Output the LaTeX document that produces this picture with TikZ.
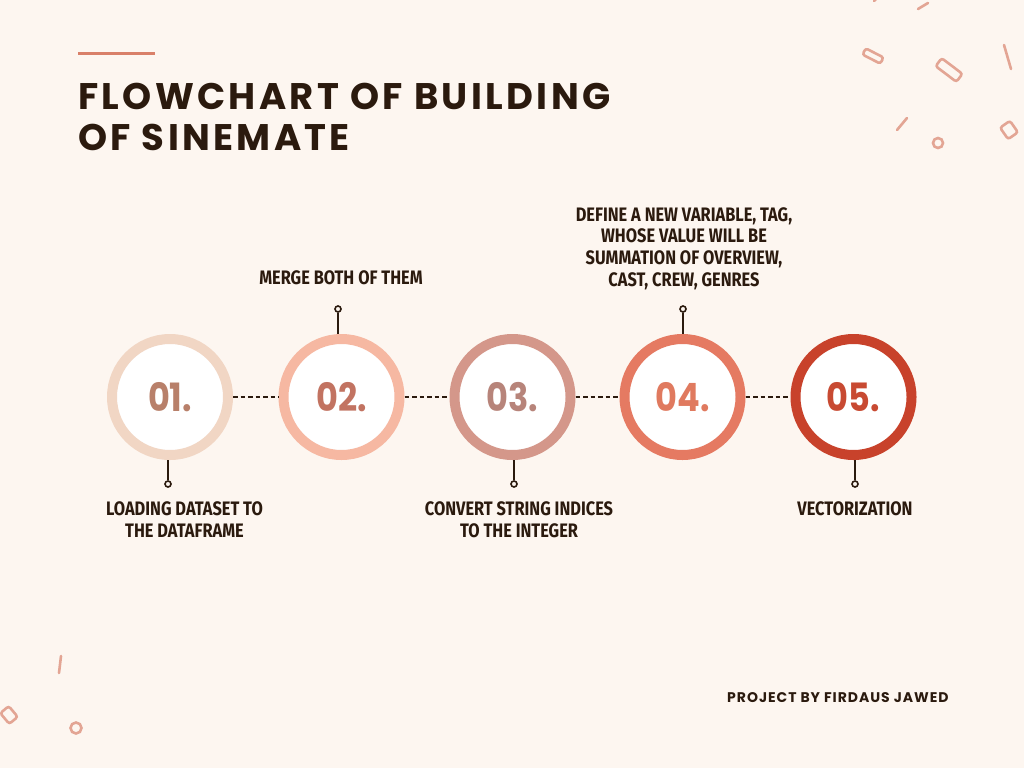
\documentclass[tikz,border=0pt]{standalone}
\usepackage{fontspec}
\setmainfont{Poppins}
\newfontfamily\headfont[LetterSpace=9]{Poppins}
\newfontfamily\numfont[FakeStretch=0.86]{Poppins}
\newfontfamily\lblfont[FakeStretch=0.84]{Fira Sans}
\newfontfamily\credfont[LetterSpace=7]{Poppins}

\definecolor{bg}{HTML}{FDF6F0}
\definecolor{ink}{HTML}{2B1A0E}
\definecolor{accent}{HTML}{D98069}
\definecolor{conf}{HTML}{E3A594}
\definecolor{ringA}{HTML}{F1D6C4}
\definecolor{ringB}{HTML}{F6B8A2}
\definecolor{ringC}{HTML}{D4978A}
\definecolor{ringD}{HTML}{E57A62}
\definecolor{ringE}{HTML}{C8422B}
\definecolor{numA}{HTML}{B8806A}
\definecolor{numB}{HTML}{C27361}
\definecolor{numC}{HTML}{B7847A}
\definecolor{numD}{HTML}{E07A5F}
\definecolor{numE}{HTML}{C84A32}

\tikzset{
  stepring/.style={circle, draw=#1, line width=10pt, fill=white,
    minimum size=116pt, inner sep=0pt,
    font=\numfont\bfseries\fontsize{39}{39}\selectfont},
  pindot/.style={circle, draw=ink, line width=1.6pt, fill=bg,
    minimum size=6pt, inner sep=0pt},
  stem/.style={draw=ink, line width=1.6pt},
  link/.style={draw=ink, line width=1.6pt, dash pattern=on 4.5pt off 3pt},
  lbl/.style={text=ink, align=center, inner sep=0pt,
    font=\lblfont\bfseries\fontsize{19.5}{21.7}\selectfont},
  confetti/.style={draw=conf, line width=2.6pt, line cap=round},
  confbox/.style={draw=conf, line width=2.6pt, rounded corners=2.5pt,
    inner sep=0pt},
}

\begin{document}
\begin{tikzpicture}[x=1pt, y=-1pt]
  % canvas
  \fill[bg] (0,0) rectangle (1024,768);
  \useasboundingbox (0,0) rectangle (1024,768);

  % scattered confetti, top right
  \draw[confetti] (874,1) -- (879,-4);
  \draw[confetti] (918,9) -- (928,3);
  \node[confbox, minimum width=20pt, minimum height=7pt, rotate=-27] (k1) at (873,56) {};
  \node[confbox, minimum width=26pt, minimum height=10pt, rotate=-37] (k2) at (949,70) {};
  \draw[confetti] (1004,45) -- (1011,69);
  \draw[confetti] (897,130) -- (907,118);
  \node[confbox, circle, minimum size=10pt] (k3) at (938,143) {};
  \node[confbox, minimum width=12pt, minimum height=14pt, rotate=35] (k4) at (1009,130) {};

  % scattered confetti, bottom left
  \draw[confetti] (61,656) -- (59,673);
  \node[confbox, minimum width=11pt, minimum height=14pt, rotate=40] (k5) at (9,715) {};
  \node[confbox, circle, minimum size=11pt] (k6) at (76,728) {};

  % heading
  \draw[accent, line width=3pt] (78,54) -- (155,54);
  \node[anchor=base west, inner sep=0pt, text=ink,
        font=\headfont\bfseries\fontsize{37}{37}\selectfont] (h1) at (78,109) {FLOWCHART OF BUILDING};
  \node[anchor=base west, inner sep=0pt, text=ink,
        font=\headfont\bfseries\fontsize{37}{37}\selectfont] (h2) at (78,150) {OF SINEMATE};

  % pins at the ends of the stems
  \node[pindot] (p1) at (168,484) {};
  \node[pindot] (p2) at (338,309) {};
  \node[pindot] (p3) at (514,484) {};
  \node[pindot] (p4) at (683,309) {};
  \node[pindot] (p5) at (855,484) {};

  % centres of the step circles
  \path (170,397) coordinate (o1) (341.5,397) coordinate (o2) (512.5,397) coordinate (o3)
        (682.5,397) coordinate (o4) (853.5,397) coordinate (o5);

  \draw[stem] (p1.north) -- (p1.north |- 0,459);
  \draw[stem] (p2.south) -- (p2.south |- 0,335);
  \draw[stem] (p3.north) -- (p3.north |- 0,459);
  \draw[stem] (p4.south) -- (p4.south |- 0,335);
  \draw[stem] (p5.north) -- (p5.north |- 0,459);

  \node[stepring=ringA, text=numA] (c1) at (o1) {01.};
  \node[stepring=ringB, text=numB] (c2) at (o2) {02.};
  \node[stepring=ringC, text=numC] (c3) at (o3) {03.};
  \node[stepring=ringD, text=numD] (c4) at (o4) {04.};
  \node[stepring=ringE, text=numE] (c5) at (o5) {05.};

  % dashed links between steps
  \draw[link] (c1.east) -- (c2.west);
  \draw[link] (c2.east) -- (c3.west);
  \draw[link] (c3.east) -- (c4.west);
  \draw[link] (c4.east) -- (c5.west);

  % step descriptions
  \node[lbl] (t1) at (184.5,519.5) {LOADING DATASET TO\\THE DATAFRAME};
  \node[lbl] (t2) at (341,278) {MERGE BOTH OF THEM};
  \node[lbl] (t3) at (519,519.5) {CONVERT STRING INDICES\\TO THE INTEGER};
  \node[lbl] (t4) at (684,248.5) {DEFINE A NEW VARIABLE, TAG,\\WHOSE VALUE WILL BE\\SUMMATION OF OVERVIEW,\\CAST, CREW, GENRES};
  \node[lbl] (t5) at (855,509) {VECTORIZATION};

  % credit
  \node[anchor=base west, inner sep=0pt, text=ink,
        font=\credfont\bfseries\fontsize{14}{14}\selectfont] (cr) at (727,702) {PROJECT BY FIRDAUS JAWED};
\end{tikzpicture}
\end{document}
